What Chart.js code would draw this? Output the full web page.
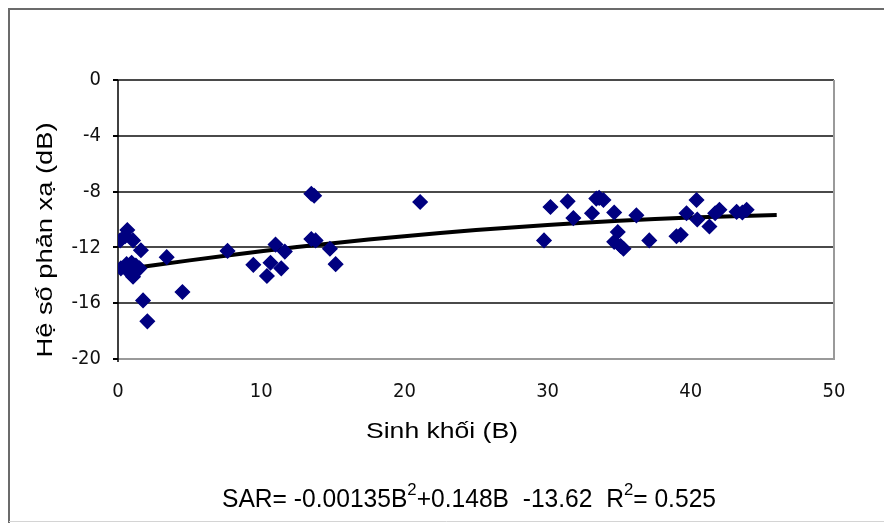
<!DOCTYPE html>
<html><head><meta charset="utf-8">
<script src="https://cdn.jsdelivr.net/npm/chart.js@4/dist/chart.umd.min.js"></script>
<style>html,body{margin:0;padding:0;background:#fff;}#wrap{width:884px;height:523px;position:relative;}</style>
</head><body><div id="wrap"><canvas id="c" width="884" height="523"></canvas></div>
<script>
// ---- data ----
const biomass = [0.15,0.5,0.65,1.05,1.6,0.2,0.6,0.95,1.05,1.5,0.8,1.25,1.75,2.05,3.4,4.5,
  7.65,9.45,10.4,10.65,11.0,11.65,11.4,13.5,13.7,13.5,13.8,14.8,15.2,21.1,
  29.75,30.2,31.4,31.8,33.1,33.4,33.9,33.6,34.65,34.9,34.65,35.3,35.1,36.2,37.1,39.0,39.3,39.7,40.4,40.45,41.3,41.7,42.0,43.2,43.9,43.6];
const sar = [-11.5,-11.2,-10.75,-11.5,-12.2,-13.5,-13.2,-13.1,-14.1,-13.5,-13.8,-13.3,-15.8,-17.3,-12.7,-15.2,
  -12.25,-13.25,-14.05,-13.1,-11.8,-12.3,-13.5,-8.15,-8.3,-11.4,-11.5,-12.1,-13.2,-8.75,
  -11.5,-9.1,-8.7,-9.9,-9.55,-8.5,-8.6,-8.45,-9.5,-10.9,-11.6,-12.1,-11.9,-9.7,-11.5,-11.2,-11.1,-9.55,-8.6,-10.0,-10.5,-9.55,-9.3,-9.45,-9.3,-9.5];
const trendBiomass = [0,5,10,15,20,25,30,35,40,46];
const trendSar = [-13.62,-12.93,-12.28,-11.70,-11.20,-10.76,-10.40,-10.09,-9.86,-9.67];
const xTickValues = [0,10,20,30,40,50];
const yTickValues = [0,-4,-8,-12,-16,-20];
const xTitle = 'Sinh khối (B)';
const yTitle = 'Hệ số phản xạ (dB)';
const eqParts = [['SAR= -0.00135B',false],['2',true],['+0.148B  -13.62  R',false],['2',true],['= 0.525',false]];

const FAM = "'Liberation Sans Narrow','DejaVu Sans Condensed','Liberation Sans',sans-serif";
const FAM2 = "'Liberation Sans','DejaVu Sans',sans-serif";

function fitText(ctx, text, cx, cy, targetW, font, rot){
  ctx.save(); ctx.font = font; const w = ctx.measureText(text).width;
  ctx.translate(cx, cy); if (rot) ctx.rotate(rot); ctx.scale(targetW / w, 1);
  ctx.textAlign = 'center'; ctx.textBaseline = 'middle'; ctx.fillStyle = '#000';
  ctx.fillText(text, 0, 0); ctx.restore();
}

const decor = {
  id: 'decor',
  beforeDraw(chart){
    const ctx = chart.ctx; ctx.save();
    ctx.fillStyle = '#fff'; ctx.fillRect(0, 0, 884, 523);
    ctx.strokeStyle = '#6b6b6b'; ctx.lineWidth = 2;
    ctx.beginPath(); ctx.moveTo(9, 523); ctx.lineTo(9, 9); ctx.lineTo(884, 9); ctx.stroke();
    ctx.strokeStyle = '#d4d4d4'; ctx.lineWidth = 1;
    ctx.beginPath(); ctx.moveTo(9, 521.5); ctx.lineTo(884, 521.5); ctx.stroke();
    ctx.restore();
  },
  beforeDatasetsDraw(chart){
    const {ctx, chartArea: a} = chart; ctx.save();
    ctx.strokeStyle = '#9a9a9a'; ctx.lineWidth = 2;
    ctx.beginPath(); ctx.moveTo(a.right, a.top); ctx.lineTo(a.right, a.bottom); ctx.lineTo(a.left, a.bottom); ctx.stroke();
    ctx.strokeStyle = '#000'; ctx.lineWidth = 1.5;
    ctx.beginPath(); ctx.moveTo(a.left, a.top); ctx.lineTo(a.left, a.bottom + 3); ctx.stroke();
    ctx.restore();
  },
  afterDraw(chart){
    const ctx = chart.ctx;
    fitText(ctx, yTitle, 46, 240, 235, '22px ' + FAM2, -Math.PI / 2);
    fitText(ctx, xTitle, 442, 432, 152, '22px ' + FAM2, 0);
    // equation with superscripts
    ctx.save();
    const big = '25px ' + FAM2, small = '17px ' + FAM2;
    let W = 0;
    for (const [t, sup] of eqParts){ ctx.font = sup ? small : big; W += ctx.measureText(t).width; }
    const s = 494 / W;
    ctx.translate(222, 507); ctx.scale(s, 1);
    ctx.fillStyle = '#000'; ctx.textBaseline = 'alphabetic'; ctx.textAlign = 'left';
    let x = 0;
    for (const [t, sup] of eqParts){
      ctx.font = sup ? small : big;
      ctx.fillText(t, x, sup ? -12 : 0);
      x += ctx.measureText(t).width;
    }
    ctx.restore();
  }
};

const tickFont = {family: FAM, size: 20};
new Chart(document.getElementById('c'), {
  type: 'scatter',
  data: {
    datasets: [
      {type: 'scatter', data: biomass.map((b, i) => ({x: b, y: sar[i]})),
       pointStyle: 'rectRot', pointRadius: 7, backgroundColor: '#000080', borderColor: '#000080', borderWidth: 1.5, order: 0},
      {type: 'line', data: trendBiomass.map((b, i) => ({x: b, y: trendSar[i]})),
       borderColor: '#000', borderWidth: 4, pointRadius: 0, tension: 0.4, fill: false, order: 1}
    ]
  },
  options: {
    responsive: false, animation: false, devicePixelRatio: 1,
    layout: {padding: {top: 80, right: 50, left: 0, bottom: 0}},
    plugins: {legend: {display: false}, tooltip: {enabled: false}},
    scales: {
      x: {type: 'linear', min: 0, max: 50,
          afterBuildTicks: sc => { sc.ticks = xTickValues.map(v => ({value: v})); },
          afterFit: sc => { sc.height = 164; },
          grid: {display: false, drawTicks: false}, border: {display: false},
          ticks: {font: tickFont, color: '#111', padding: 21, maxRotation: 0}},
      y: {type: 'linear', min: -20, max: 0,
          afterBuildTicks: sc => { sc.ticks = yTickValues.map(v => ({value: v})); },
          afterFit: sc => { sc.width = 118; },
          grid: {color: '#4a4a4a', lineWidth: 2, drawTicks: true, tickLength: 5, tickColor: '#000'},
          border: {display: false},
          ticks: {font: tickFont, color: '#111', padding: 12}}
    }
  },
  plugins: [decor]
});
</script></body></html>
